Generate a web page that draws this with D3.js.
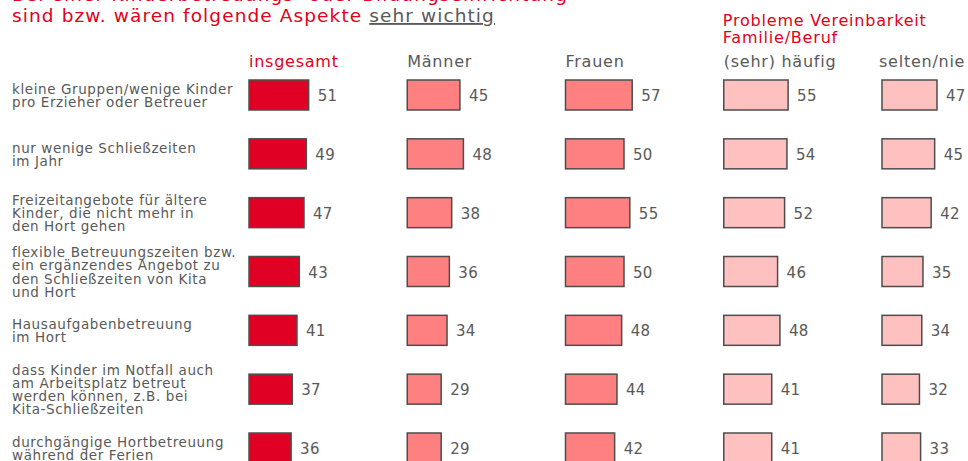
<!DOCTYPE html>
<html>
<head>
<meta charset="utf-8">
<script src="https://cdn.jsdelivr.net/npm/d3@7"></script>
<style>
  body { margin: 0; background: #fff; }
  svg text { font-family: Verdana, "DejaVu Sans", sans-serif; }
</style>
</head>
<body>
<div class="chart"></div>
<script>
// Daten
const categories = [
  ['kleine Gruppen/wenige Kinder', 'pro Erzieher oder Betreuer'],
  ['nur wenige Schließzeiten', 'im Jahr'],
  ['Freizeitangebote für ältere', 'Kinder, die nicht mehr in', 'den Hort gehen'],
  ['flexible Betreuungszeiten bzw.', 'ein ergänzendes Angebot zu', 'den Schließzeiten von Kita', 'und Hort'],
  ['Hausaufgabenbetreuung', 'im Hort'],
  ['dass Kinder im Notfall auch', 'am Arbeitsplatz betreut', 'werden können, z.B. bei', 'Kita-Schließzeiten'],
  ['durchgängige Hortbetreuung', 'während der Ferien']
];
const seriesNames = ['insgesamt', 'Männer', 'Frauen', '(sehr) häufig', 'selten/nie'];
const insgesamt = [51, 49, 47, 43, 41, 37, 36];
const maenner   = [45, 48, 38, 36, 34, 29, 29];
const frauen    = [57, 50, 55, 50, 48, 44, 42];
const haeufig   = [55, 54, 52, 46, 48, 41, 41];
const selten    = [47, 45, 42, 35, 34, 32, 33];
const seriesValues = [insgesamt, maenner, frauen, haeufig, selten];
const seriesColors = ['#e00024', '#ff8080', '#ff8080', '#ffc0c0', '#ffc0c0'];

const red = '#e2001a';
const gray = '#595959';

const width = 968, height = 461;
const svg = d3.select('.chart').append('svg')
  .attr('width', width).attr('height', height);

// Titel (erste Zeile ist oben abgeschnitten)
const title = svg.append('text').attr('x', 12).attr('y', 1)
  .style('font-size', '18.5px').style('letter-spacing', '1.1px').style('fill', red);
title.append('tspan').text('Bei einer Kinderbetreuungs- oder Bildungseinrichtung');
const title2 = svg.append('text').attr('x', 12).attr('y', 22)
  .style('font-size', '18.5px').style('letter-spacing', '1.1px').style('fill', red);
title2.append('tspan').text('sind bzw. wären folgende Aspekte ');
title2.append('tspan').text('sehr wichtig')
  .style('fill', gray).style('text-decoration', 'underline');

// Skalen
const xCol = d3.scalePoint().domain(seriesNames).range([249, 882]);
const rowKeys = categories.map((d, i) => i);
const yRow = d3.scalePoint().domain(rowKeys).range([95, 448]);
const barLen = d3.scaleLinear().domain([0, 100]).range([0, 117]);
const barH = 30;

// Gruppenüberschrift
const grp = svg.append('text').attr('x', xCol('(sehr) häufig') - 1).attr('y', 26)
  .style('font-size', '16px').style('letter-spacing', '0.8px').style('fill', red);
grp.append('tspan').text('Probleme Vereinbarkeit');
grp.append('tspan').attr('x', xCol('(sehr) häufig') - 1).attr('dy', 16.5).text('Familie/Beruf');

// Spaltenköpfe
svg.selectAll('.col-head')
  .data(seriesNames)
  .enter().append('text')
  .attr('class', 'col-head')
  .attr('x', (d, i) => xCol(d) - (i === 4 ? 3 : 0))
  .attr('y', 67)
  .style('font-size', '16px')
  .style('letter-spacing', '0.75px')
  .style('fill', (d, i) => i === 0 ? red : gray)
  .text(d => d);

// Kategorien
const lineH = 13.2;
const catG = svg.selectAll('.cat')
  .data(categories)
  .enter().append('text')
  .attr('class', 'cat')
  .style('font-size', '13.5px')
  .style('letter-spacing', '0.6px')
  .style('fill', gray)
  .attr('y', (d, i) => yRow(i) + 5.5 - (d.length - 1) * lineH / 2);
catG.selectAll('tspan')
  .data(d => d)
  .enter().append('tspan')
  .attr('x', 12)
  .attr('dy', (d, i) => i === 0 ? 0 : lineH)
  .text(d => d);

// Balken
seriesNames.forEach((name, s) => {
  const g = svg.append('g').attr('class', 'series');
  const vals = seriesValues[s];
  g.selectAll('rect')
    .data(vals)
    .enter().append('rect')
    .attr('x', xCol(name))
    .attr('y', (d, i) => yRow(i) - barH / 2)
    .attr('width', d => barLen(d))
    .attr('height', barH)
    .style('fill', seriesColors[s])
    .style('stroke', '#4d4d4d')
    .style('stroke-width', 1.5);
  g.selectAll('text')
    .data(vals)
    .enter().append('text')
    .attr('x', d => xCol(name) + barLen(d) + 9)
    .attr('y', (d, i) => yRow(i) + 6)
    .style('font-size', '15px')
    .style('letter-spacing', '0.3px')
    .style('fill', gray)
    .text(d => d);
});
</script>
</body>
</html>
